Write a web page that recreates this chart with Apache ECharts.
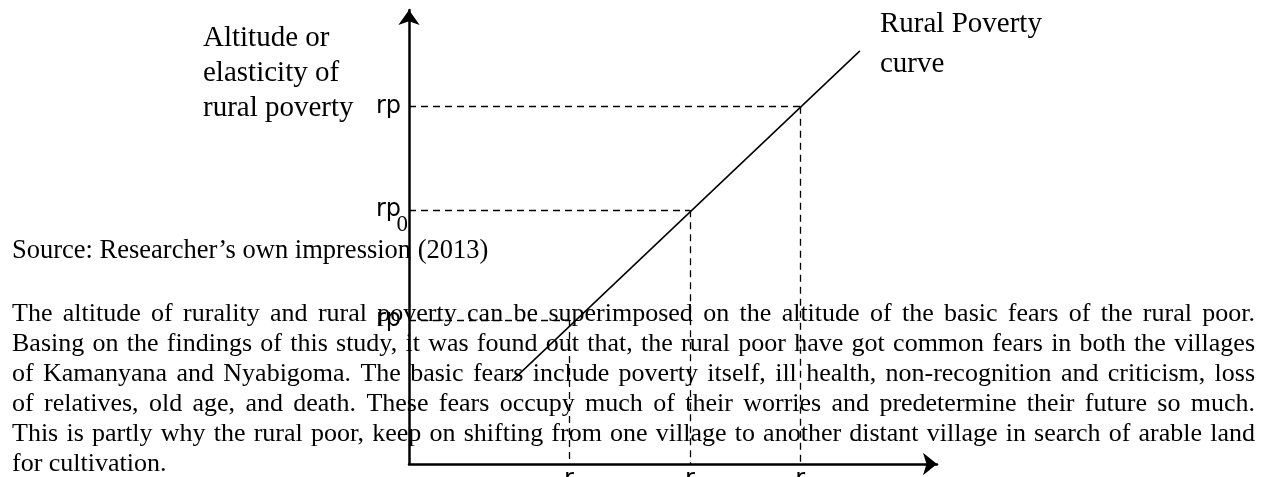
<!DOCTYPE html>
<html>
<head>
<meta charset="utf-8">
<script src="https://cdn.jsdelivr.net/npm/echarts@6/dist/echarts.min.js"></script>
<style>
  html, body { margin: 0; padding: 0; background: #fff; }
  #main { width: 1264px; height: 477px; }
</style>
</head>
<body>
<div id="main"></div>
<script>
// curve end points (axis units 0..100)
const curveX = [19.5, 85.4];
const curveY = [18.3, 91.0];
// guide levels
const rTicks = [30.3, 53.2, 74.1];
const rpTicks = [31.7, 55.9, 78.7];
const xTickLabels = ['r', 'r', 'r'];
const yTickLabels = ['rp', 'rp', 'rp'];
const subscriptLabel = '0';

const yTitleLines = ['Altitude or', 'elasticity of', 'rural poverty'];
const curveTitleLines = ['Rural Poverty', 'curve'];
const sourceNote = 'Source: Researcher\u2019s own impression (2013)';
const paragraphLines = [
  'The altitude of rurality and rural poverty can be superimposed on the altitude of the basic fears of the rural poor.',
  'Basing on the findings of this study, it was found out that, the rural poor have got common fears in both the villages',
  'of Kamanyana and Nyabigoma. The basic fears include poverty itself, ill health, non-recognition and criticism, loss',
  'of relatives, old age, and death. These fears occupy much of their worries and predetermine their future so much.',
  'This is partly why the rural poor, keep on shifting from one village to another distant village in search of arable land',
  'for cultivation.'
];

const serif = '"Liberation Serif", "Times New Roman", serif';
const sans = '"DejaVu Sans", sans-serif';
const black = '#000';

var chart = echarts.init(document.getElementById('main'));

const guides = [];
for (let i = 0; i < rTicks.length; i++) {
  guides.push([{ coord: [0, rpTicks[i]] }, { coord: [rTicks[i], rpTicks[i]] }]);
  guides.push([{ coord: [rTicks[i], rpTicks[i]] }, { coord: [rTicks[i], 0] }]);
}

const curveData = curveX.map((x, i) => [x, curveY[i]]);

var option = {
  animation: false,
  backgroundColor: '#fff',
  grid: { left: 409, top: 10, right: 327, bottom: 13, outerBoundsMode: 'none' },
  xAxis: {
    type: 'value',
    min: 0,
    max: 100,
    axisLine: {
      show: true,
      symbol: ['none', 'arrow'],
      symbolSize: [17, 14],
      lineStyle: { color: black, width: 2.5 }
    },
    axisTick: { show: false },
    splitLine: { show: false },
    axisLabel: {
      customValues: rTicks,
      formatter: (v) => xTickLabels[rTicks.indexOf(v)] || 'r',
      margin: 4,
      color: black,
      fontFamily: sans,
      fontSize: 24
    }
  },
  yAxis: {
    type: 'value',
    min: 0,
    max: 100,
    axisLine: {
      show: true,
      symbol: ['none', 'arrow'],
      symbolSize: [16, 15],
      lineStyle: { color: black, width: 2.5 }
    },
    axisTick: { show: false },
    splitLine: { show: false },
    axisLabel: {
      customValues: rpTicks,
      formatter: (v) => yTickLabels[rpTicks.indexOf(v)] || 'rp',
      margin: 8,
      color: black,
      fontFamily: sans,
      fontSize: 24
    }
  },
  series: [
    {
      type: 'line',
      data: curveData,
      symbol: 'none',
      lineStyle: { color: black, width: 1.5 },
      markLine: {
        silent: true,
        symbol: ['none', 'none'],
        label: { show: false },
        lineStyle: { color: black, width: 1.3, type: [7, 5] },
        data: guides
      }
    }
  ]
};
chart.setOption(option);

// text blocks
const els = [];
const ctx = document.createElement('canvas').getContext('2d');
const paraFont = '26px ' + serif;
ctx.font = paraFont;
const textLeft = 12, textRight = 1255;

function addText(text, x, y, font, align) {
  els.push({
    type: 'text', x: x, y: y, z: 1,
    style: { text: text, font: font, fill: black, textAlign: align || 'left', textVerticalAlign: 'middle' }
  });
}

yTitleLines.forEach((t, i) => addText(t, 203, 38 + i * 35, '29px ' + serif));
curveTitleLines.forEach((t, i) => addText(t, 880, 24 + i * 40, '29px ' + serif));
addText(sourceNote, 12, 251, '26.5px ' + serif);

paragraphLines.forEach((line, li) => {
  const y = 314 + li * 30;
  const words = line.split(' ');
  const ws = words.map(w => ctx.measureText(w).width);
  const total = ws.reduce((a, b) => a + b, 0);
  const last = li === paragraphLines.length - 1;
  const gap = last ? ctx.measureText(' ').width : (textRight - textLeft - total) / (words.length - 1);
  let x = textLeft;
  words.forEach((w, i) => {
    addText(w, x, y, paraFont);
    x += ws[i] + gap;
  });
});

// subscript under the middle rp label
const p = chart.convertToPixel({ gridIndex: 0 }, [0, rpTicks[1]]);
addText(subscriptLabel, p[0] - 1, p[1] + 15, '23px ' + serif, 'right');

chart.setOption({ graphic: { elements: els } });
</script>
</body>
</html>
